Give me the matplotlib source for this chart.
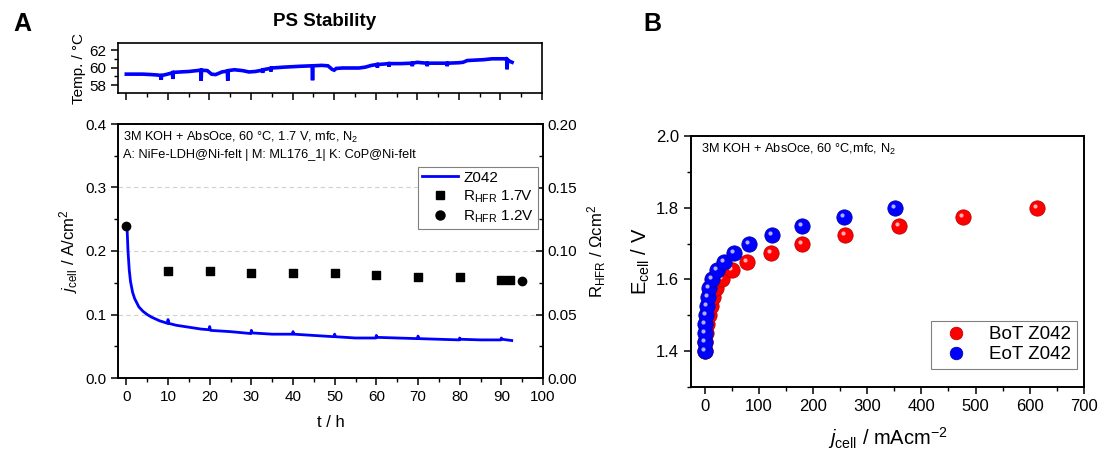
import matplotlib
matplotlib.use("Agg")
import matplotlib.pyplot as plt
import matplotlib.transforms as mtransforms
from matplotlib.ticker import MultipleLocator, FormatStrFormatter
from matplotlib.lines import Line2D

plt.rcParams['font.family'] = ['Liberation Sans', 'DejaVu Sans']
plt.rcParams['mathtext.fontset'] = 'custom'
plt.rcParams['mathtext.rm'] = 'Liberation Sans'
plt.rcParams['mathtext.it'] = 'Liberation Sans:italic'
plt.rcParams['mathtext.bf'] = 'Liberation Sans:bold'

# ---------------- data: panel A ----------------
temp_t = [0.0, 2, 4, 6, 7.5, 8.3, 8.4, 8.5, 9.5, 11.1, 11.2, 11.3, 13, 15, 17.9, 18.0, 18.1,
          19.5, 20.5, 21.5, 23, 24.3, 24.4, 24.5, 26, 28, 29.5, 31, 32.7, 32.8, 32.9, 34,
          34.7, 34.8, 34.9, 36.5, 38, 40, 42, 44.7, 44.8, 44.9, 47, 48.5, 49.5, 50, 50.5,
          52, 54, 56, 57.5, 59, 60.3, 60.4, 60.5, 62, 63.1, 63.2, 63.3, 66, 68.7, 68.8, 68.9,
          70, 71, 72.3, 72.4, 72.5, 74, 77.1, 77.2, 77.3, 80, 81, 82, 84, 86, 88, 90, 91.0,
          91.5, 91.6, 91.7, 92.3, 92.8]
temp_v = [59.25, 59.25, 59.25, 59.2, 59.15, 59.1, 58.6, 59.1, 59.2, 59.4, 58.7, 59.45, 59.5, 59.55, 59.7, 58.5, 59.7,
          59.65, 59.25, 59.2, 59.5, 59.6, 58.5, 59.65, 59.75, 59.65, 59.5, 59.55, 59.7, 59.4, 59.75, 59.85,
          59.9, 59.55, 59.95, 60.0, 60.05, 60.1, 60.15, 60.2, 58.55, 60.2, 60.25, 60.2, 59.8, 59.7, 59.9,
          59.95, 59.95, 59.95, 60.05, 60.25, 60.35, 60.0, 60.35, 60.4, 60.45, 60.1, 60.45, 60.45, 60.5, 60.15, 60.5,
          60.6, 60.55, 60.5, 60.15, 60.5, 60.5, 60.5, 60.15, 60.5, 60.55, 60.6, 60.8, 60.85, 60.9, 61.0, 61.0, 61.0,
          60.95, 59.8, 60.9, 60.7, 60.6]

j_t = [0.2, 0.4, 0.7, 1.0, 1.5, 2, 3, 4, 5, 6, 7, 8, 9, 9.9, 10.0, 10.2, 12, 15, 18, 19.9, 20.0, 20.2,
       25, 29.9, 30.0, 30.2, 35, 39.9, 40.0, 40.2, 45, 49.9, 50.0, 50.2, 55, 59.9, 60.0, 60.2, 65,
       69.9, 70.0, 70.2, 75, 79.9, 80.0, 80.2, 85, 89.9, 90.0, 90.2, 92.5]
j_v = [0.232, 0.200, 0.170, 0.152, 0.135, 0.125, 0.112, 0.105, 0.100, 0.096, 0.093, 0.090, 0.088, 0.086, 0.092, 0.086,
       0.083, 0.080, 0.077, 0.076, 0.081, 0.075, 0.073, 0.070, 0.075, 0.071, 0.069, 0.069, 0.073, 0.069, 0.067,
       0.065, 0.069, 0.065, 0.063, 0.063, 0.067, 0.064, 0.063, 0.062, 0.066, 0.062, 0.061, 0.060, 0.063, 0.061,
       0.060, 0.060, 0.063, 0.061, 0.059]

r17_t = [10, 20, 30, 40, 50, 60, 70, 80, 90, 92]
r17_v = [0.0846, 0.0843, 0.0830, 0.0823, 0.0826, 0.0810, 0.0797, 0.0792, 0.0775, 0.0775]
r12_t = [0, 95]
r12_v = [0.120, 0.0760]

# ---------------- data: panel B ----------------
E_levels = [1.400, 1.425, 1.450, 1.475, 1.500, 1.525, 1.550, 1.575, 1.600, 1.625, 1.650,
            1.675, 1.700, 1.725, 1.750, 1.775, 1.800]
bot_j = [0.5, 1.5, 3, 5, 7.5, 11, 16, 21, 32, 51, 78, 122, 180, 259, 358, 476, 614]
eot_j = [0.3, 0.7, 1.0, 1.5, 1.8, 3.7, 6.0, 9.0, 14, 22.7, 35.6, 55, 82, 124, 180, 257, 352]

W, H = 1099, 449
fig = plt.figure(figsize=(W / 100, H / 100), dpi=100)

def box(x0, y0, x1, y1):
    return [x0 / W, 1 - y1 / H, (x1 - x0) / W, (y1 - y0) / H]

blue = '#0000FF'
red = '#FF0000'

# ---------------- temperature axes ----------------
axT = fig.add_axes(box(118, 43, 542, 93))
axT.plot(temp_t, temp_v, color=blue, lw=2.6, solid_joinstyle='miter')
axT.set_xlim(-2, 100)
axT.set_ylim(57.1, 62.8)
axT.yaxis.set_major_locator(MultipleLocator(2))
axT.yaxis.set_minor_locator(MultipleLocator(1))
axT.xaxis.set_major_locator(MultipleLocator(10))
axT.xaxis.set_minor_locator(MultipleLocator(5))
axT.tick_params(axis='x', which='both', labelbottom=False, direction='out')
axT.tick_params(axis='both', which='major', length=5, width=1.1, labelsize=11)
axT.tick_params(axis='both', which='minor', length=3, width=1.0)
axT.set_ylabel('Temp. / °C', fontsize=11, labelpad=2)
for s in axT.spines.values():
    s.set_linewidth(1.2)
fig.text(325 / W, 1 - 21 / H, 'PS Stability', fontsize=13.5, fontweight='bold',
         ha='center', va='center')

# ---------------- main panel A ----------------
ax = fig.add_axes(box(118, 124, 543, 378))
ax.plot(j_t, j_v, color=blue, lw=2.0, zorder=3)
ax.set_xlim(-2, 100)
ax.set_ylim(0, 0.4)
ax.xaxis.set_major_locator(MultipleLocator(10))
ax.xaxis.set_minor_locator(MultipleLocator(5))
ax.yaxis.set_major_locator(MultipleLocator(0.1))
ax.yaxis.set_minor_locator(MultipleLocator(0.05))
ax.yaxis.set_major_formatter(FormatStrFormatter('%.1f'))
ax.tick_params(axis='both', which='major', length=5, width=1.1, labelsize=11, direction='out')
ax.tick_params(axis='both', which='minor', length=3, width=1.0, direction='out')
ax.grid(axis='y', which='major', linestyle=(0, (4, 3)), color='#d0d0d0', lw=0.8)
ax.set_axisbelow(True)
ax.set_xlabel('t / h', fontsize=12, labelpad=8)
ax.set_ylabel(r'$j_{\mathrm{cell}}$ / A/cm$^2$', fontsize=12, labelpad=4)
for s in ax.spines.values():
    s.set_linewidth(1.2)
ax.text(0.012, 0.975, '3M KOH + AbsOce, 60 °C, 1.7 V, mfc, N$_2$', transform=ax.transAxes,
        fontsize=9.2, va='top', ha='left')
ax.text(0.012, 0.9, 'A: NiFe-LDH@Ni-felt | M: ML176_1| K: CoP@Ni-felt', transform=ax.transAxes,
        fontsize=9.2, va='top', ha='left')

ax2 = ax.twinx()
ax2.set_ylim(0, 0.2)
ax2.scatter(r17_t, r17_v, marker='s', s=30, color='black', zorder=4)
ax2.scatter(r12_t, r12_v, marker='o', s=36, color='black', zorder=4)
ax2.yaxis.set_major_locator(MultipleLocator(0.05))
ax2.yaxis.set_minor_locator(MultipleLocator(0.025))
ax2.yaxis.set_major_formatter(FormatStrFormatter('%.2f'))
ax2.tick_params(axis='y', which='major', length=5, width=1.1, labelsize=11, direction='in')
ax2.tick_params(axis='y', which='minor', length=3, width=1.0, direction='in')
ax2.set_ylabel(r'R$_{\mathrm{HFR}}$ / Ωcm$^2$', fontsize=12, labelpad=6)
for s in ax2.spines.values():
    s.set_linewidth(1.2)

handles = [Line2D([], [], color=blue, lw=2.0),
           Line2D([], [], color='black', marker='s', ls='none', markersize=6),
           Line2D([], [], color='black', marker='o', ls='none', markersize=6.5)]
labels = ['Z042', r'R$_{\mathrm{HFR}}$ 1.7V', r'R$_{\mathrm{HFR}}$ 1.2V']
legA = ax2.legend(handles, labels, loc='upper right', bbox_to_anchor=(0.988, 0.831),
                  fontsize=11, fancybox=False, framealpha=1, edgecolor='#808080',
                  handlelength=2.4, handletextpad=0.3, borderpad=0.25, labelspacing=0.25,
                  borderaxespad=0)
legA.get_frame().set_linewidth(0.8)

# ---------------- panel B ----------------
axB = fig.add_axes(box(691, 136, 1084, 387))
ms = 11
hl = mtransforms.offset_copy(axB.transData, fig=fig, x=-2.0, y=2.0, units='dots')
axB.plot(bot_j, E_levels, ls='none', marker='o', markersize=ms, color=red,
         markeredgecolor='#c00000', markeredgewidth=0.6, zorder=3)
axB.plot(bot_j, E_levels, ls='none', marker='o', markersize=3, color='#ffb0b0',
         markeredgewidth=0, zorder=3.1, transform=hl)
axB.plot(eot_j, E_levels, ls='none', marker='o', markersize=ms, color=blue,
         markeredgecolor='#0000b0', markeredgewidth=0.6, zorder=4)
axB.plot(eot_j, E_levels, ls='none', marker='o', markersize=3, color='#b0b0ff',
         markeredgewidth=0, zorder=4.1, transform=hl)
axB.set_xlim(-25, 700)
axB.set_ylim(1.3, 2.0)
axB.xaxis.set_major_locator(MultipleLocator(100))
axB.xaxis.set_minor_locator(MultipleLocator(50))
axB.yaxis.set_minor_locator(MultipleLocator(0.1))
axB.set_yticks([1.4, 1.6, 1.8, 2.0])
axB.yaxis.set_major_formatter(FormatStrFormatter('%.1f'))
axB.tick_params(axis='both', which='major', length=5, width=1.1, labelsize=12, direction='out')
axB.tick_params(axis='both', which='minor', length=3, width=1.0, direction='out')
axB.set_xlabel(r'$j_{\mathrm{cell}}$ / mAcm$^{-2}$', fontsize=14.5, labelpad=8)
axB.set_ylabel(r'E$_{\mathrm{cell}}$ / V', fontsize=14.5, labelpad=3)
for s in axB.spines.values():
    s.set_linewidth(1.4)
axB.text(0.025, 0.975, '3M KOH + AbsOce, 60 °C,mfc, N$_2$', transform=axB.transAxes,
         fontsize=9.2, va='top', ha='left')
hB = [Line2D([], [], ls='none', marker='o', markersize=9, color=red, markeredgecolor='#c00000', markeredgewidth=0.6),
      Line2D([], [], ls='none', marker='o', markersize=9, color=blue, markeredgecolor='#0000b0', markeredgewidth=0.6)]
legB = axB.legend(hB, ['BoT Z042', 'EoT Z042'], loc='lower right', bbox_to_anchor=(0.982, 0.072),
                  fontsize=13.5, fancybox=False, framealpha=1, edgecolor='#808080',
                  handlelength=2.0, handletextpad=0.8, borderpad=0.3, labelspacing=0.15,
                  borderaxespad=0)
legB.get_frame().set_linewidth(0.8)

# panel letters
fig.text(22 / W, 1 - 24 / H, 'A', fontsize=18, fontweight='bold', ha='center', va='center')
fig.text(652 / W, 1 - 24 / H, 'B', fontsize=18, fontweight='bold', ha='center', va='center')

fig.savefig('out.png', dpi=100)
